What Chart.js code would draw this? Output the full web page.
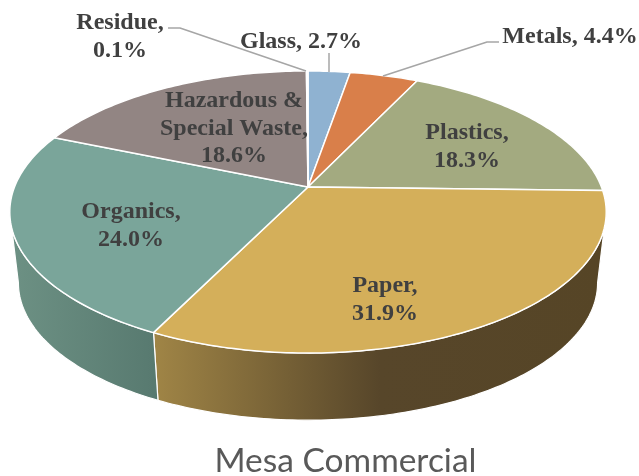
<!DOCTYPE html>
<html>
<head>
<meta charset="utf-8">
<title>Mesa Commercial</title>
<style>
  html, body { margin: 0; padding: 0; background: #fff; }
  canvas { display: block; }
</style>
<script src="https://cdn.jsdelivr.net/npm/chart.js@4"></script>
</head>
<body>
<canvas id="myChart" width="639" height="476"></canvas>
<script>
'use strict';
const categories = ['Glass', 'Metals', 'Plastics', 'Paper', 'Organics', 'Hazardous & Special Waste', 'Residue'];
const shares = [2.7, 4.4, 18.3, 31.9, 24.0, 18.6, 0.1];
const topColors = ['#8fb2d1', '#d97f4a', '#a3aa80', '#d4af5a', '#7aa59a', '#928583', '#f2f2f2'];

// side wall colours, left to right
const wallColors = [null, null, null, ['#a08546', '#57462a', '#564526'], ['#6d9184', '#587a70'], null, null];

// where the labels sit: centre x, first baseline y, wrap width
const labelSpots = [
  { x: 301, y: 48, wrap: 400 },
  { x: 570, y: 43, wrap: 400 },
  { x: 467, y: 139, wrap: 100 },
  { x: 385, y: 292, wrap: 100 },
  { x: 131, y: 218, wrap: 110 },
  { x: 234, y: 107, wrap: 165 },
  { x: 120, y: 29, wrap: 100 }
];
const leaderLines = [
  [[329, 53], [329, 72]],
  [[499, 42], [487, 42], [383, 76]],
  [[168, 28], [180, 28], [306, 71]]
];

// the pie is tilted with perspective, so the rim is not centred on the apex
const persp = 0.1773;
const topDisc = { x: 308, y: 187, a: 293.5, b: 136.6 };
const lowDisc = { x: 308, y: 258.5, a: 285, b: 133 };
const wallFrom = 10.2 * Math.PI / 180;
const wallTo = 169.8 * Math.PI / 180;

function project(disc, angle) {
  const w = 1 - persp * Math.sin(angle);
  return [disc.x + disc.a * Math.cos(angle) / w, disc.y + disc.b * Math.sin(angle) / w];
}

function rim(ctx, disc, from, to) {
  const steps = Math.max(2, Math.ceil(Math.abs(to - from) * 60));
  for (let i = 0; i <= steps; i++) {
    const p = project(disc, from + (to - from) * i / steps);
    ctx.lineTo(p[0], p[1]);
  }
}

const tiltedPie = {
  id: 'tiltedPie',
  beforeDatasetsDraw(chart) {
    const ctx = chart.ctx;
    const arcs = chart.getDatasetMeta(0).data;

    ctx.save();
    ctx.lineJoin = 'round';

    // walls
    arcs.forEach(function (arc, i) {
      if (!wallColors[i]) return;
      const from = Math.max(arc.startAngle, wallFrom);
      const to = Math.min(arc.endAngle, wallTo);
      if (to <= from) return;
      const grad = ctx.createLinearGradient(project(topDisc, to)[0], 0, project(topDisc, from)[0], 0);
      wallColors[i].forEach(function (c, n) {
        grad.addColorStop(n / (wallColors[i].length - 1), c);
      });
      ctx.beginPath();
      rim(ctx, topDisc, from, to);
      rim(ctx, lowDisc, to, from);
      ctx.closePath();
      ctx.fillStyle = grad;
      ctx.fill();
      ctx.strokeStyle = '#ffffff';
      ctx.lineWidth = 1.2;
      ctx.stroke();
    });

    // top surface
    arcs.forEach(function (arc, i) {
      ctx.beginPath();
      ctx.moveTo(topDisc.x, topDisc.y);
      rim(ctx, topDisc, arc.startAngle, arc.endAngle);
      ctx.closePath();
      ctx.fillStyle = topColors[i];
      ctx.fill();
      ctx.strokeStyle = '#ffffff';
      ctx.lineWidth = 1.5;
      ctx.stroke();
    });

    // leader lines
    ctx.strokeStyle = '#a6a6a6';
    ctx.lineWidth = 1.5;
    leaderLines.forEach(function (line) {
      ctx.beginPath();
      line.forEach(function (p) { ctx.lineTo(p[0], p[1]); });
      ctx.stroke();
    });

    // labels
    ctx.font = 'bold 24px "Liberation Serif"';
    ctx.fillStyle = '#404040';
    ctx.textAlign = 'center';
    ctx.textBaseline = 'alphabetic';
    categories.forEach(function (name, i) {
      const spot = labelSpots[i];
      const words = (name + ', ' + shares[i].toFixed(1) + '%').split(' ');
      let line = '';
      let y = spot.y;
      words.forEach(function (word) {
        const next = line ? line + ' ' + word : word;
        if (line && ctx.measureText(next).width > spot.wrap) {
          ctx.fillText(line, spot.x, y);
          y += 27.5;
          line = word;
        } else {
          line = next;
        }
      });
      ctx.fillText(line, spot.x, y);
    });

    ctx.restore();
    return false;
  }
};

const myChart = new Chart(document.getElementById('myChart').getContext('2d'), {
  type: 'pie',
  data: {
    labels: categories,
    datasets: [{
      data: shares,
      backgroundColor: topColors
    }]
  },
  options: {
    responsive: false,
    animation: false,
    layout: { padding: { left: 52 } },
    plugins: {
      legend: { display: false },
      tooltip: { enabled: false },
      title: {
        display: true,
        position: 'bottom',
        text: 'Mesa Commercial',
        color: '#595959',
        font: { family: 'Lato', size: 33.5, weight: 'normal', lineHeight: 0.9 },
        padding: { top: 4, bottom: 0 }
      }
    }
  },
  plugins: [tiltedPie]
});
</script>
</body>
</html>
